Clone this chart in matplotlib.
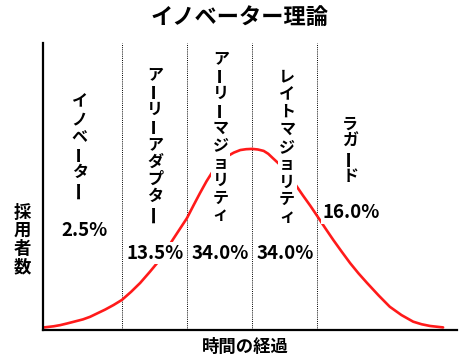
import matplotlib
matplotlib.use("Agg")
import matplotlib.pyplot as plt

plt.rcParams["font.family"] = ["Noto Sans CJK JP", "DejaVu Sans"]
plt.rcParams["font.weight"] = "bold"

# adoption curve, x in standard deviations from the mean, y in % of axis height
curve_x = [-3.2, -3.05, -2.95, -2.84, -2.72, -2.6, -2.49, -2.38, -2.26, -2.13,
           -2.0, -1.86, -1.72, -1.57, -1.42, -1.32, -1.22, -1.11, -1.0, -0.90,
           -0.80, -0.70, -0.60, -0.50, -0.39, -0.28, -0.18, -0.09, 0.0, 0.09,
           0.18, 0.25, 0.32, 0.42, 0.53, 0.65, 0.78, 0.90, 1.01, 1.13,
           1.25, 1.38, 1.51, 1.64, 1.77, 1.95, 2.12, 2.30, 2.48, 2.61,
           2.74, 2.94]
curve_y = [0.9, 1.3, 1.7, 2.3, 3.0, 3.7, 4.6, 5.8, 7.1, 8.7,
           10.5, 13.3, 16.4, 20.3, 24.4, 27.8, 31.4, 35.2, 39.0, 43.4,
           47.7, 51.8, 55.4, 58.2, 60.4, 61.8, 62.7, 63.0, 63.1, 62.9,
           62.4, 61.4, 59.9, 57.8, 55.2, 51.3, 47.0, 43.2, 39.5, 35.4,
           31.4, 27.3, 23.3, 19.7, 16.4, 12.0, 8.1, 5.2, 2.9, 2.0,
           1.4, 0.9]

boundaries = [-2, -1, 0, 1]
groups = ["イノベーター", "アーリーアダプター", "アーリーマジョリティ",
          "レイトマジョリティ", "ラガード"]
shares = ["2.5%", "13.5%", "34.0%", "34.0%", "16.0%"]
group_x = [-2.65, -1.49, -0.48, 0.54, 1.51]
group_top = [82.6, 92.3, 97.9, 91.3, 74.9]
share_x = [-2.58, -1.49, -0.49, 0.51, 1.52]
share_y = [34.8, 26.8, 26.8, 26.8, 40.8]

pitch = 17.5 / 287 * 100  # vertical step between stacked characters

fig = plt.figure(figsize=(4.77, 3.59), dpi=100)
ax = fig.add_axes([43 / 477, 29 / 359, 414 / 477, 287 / 359])
ax.set_xlim(-3.215, 3.154)
ax.set_ylim(0, 100)

ax.plot(curve_x, curve_y, color="#ff1a1a", linewidth=1.9, zorder=2,
        solid_capstyle="round", solid_joinstyle="round")
for b in boundaries:
    ax.axvline(b, color="black", linewidth=0.7, linestyle=(0, (1, 1.2)), zorder=1)

box = dict(facecolor="white", edgecolor="none", pad=1)
for name, x, top in zip(groups, group_x, group_top):
    for i, c in enumerate(name):
        y = top - (i + 0.5) * pitch
        if c == "ー":
            # long vowel mark stands upright in vertical writing
            ax.text(x, y, c, ha="center", va="center", fontsize=13.5,
                    rotation=90, bbox=box, zorder=3)
        else:
            ax.text(x, y, c, ha="center", va="center", fontsize=11.5,
                    bbox=box, zorder=3)
for s, x, y in zip(shares, share_x, share_y):
    ax.text(x, y, s, ha="center", va="center", fontsize=13.5, bbox=box, zorder=3)

ax.set_xticks([])
ax.set_yticks([])
for side in ["top", "right"]:
    ax.spines[side].set_visible(False)
for side in ["left", "bottom"]:
    ax.spines[side].set_linewidth(1.6)

fig.text(240 / 477, 1 - 17 / 359, "イノベーター理論", ha="center", va="center",
         fontsize=16)
fig.text(245 / 477, 1 - 347 / 359, "時間の経過", ha="center", va="center",
         fontsize=12.5)
fig.text(22 / 477, 1 - 240 / 359, "採\n用\n者\n数", ha="center", va="center",
         fontsize=12.5, linespacing=1.0)

fig.savefig("out.png", dpi=100)
